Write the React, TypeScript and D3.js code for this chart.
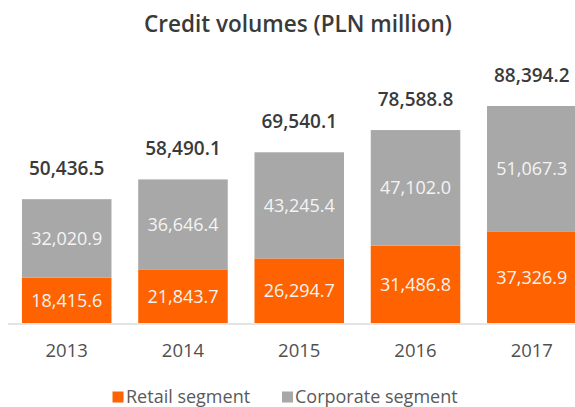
import React from "react";
import * as d3 from "d3";

const years = ["2013", "2014", "2015", "2016", "2017"];
const retail = [18415.6, 21843.7, 26294.7, 31486.8, 37326.9];
const corporate = [32020.9, 36646.4, 43245.4, 47102.0, 51067.3];
const totals = [50436.5, 58490.1, 69540.1, 78588.8, 88394.2];
const seriesNames = ["Retail segment", "Corporate segment"];
const colors = ["#FF6200", "#A8A8A8"];

const W = 575;
const H = 407;
const FONT = "'Open Sans', sans-serif";

export default function App() {
  const x = d3
    .scaleBand<string>()
    .domain(years)
    .range([8, 590.5])
    .paddingInner(0.23)
    .paddingOuter(0.12);
  const y = d3.scaleLinear().domain([0, 100000]).range([323, 77.5]);
  const fmt = d3.format(",.1f");

  const rows = years.map((yr, i) => ({ year: yr, retail: retail[i], corporate: corporate[i] }));
  const stack = d3.stack<any>().keys(["retail", "corporate"])(rows);

  return (
    <svg
      width={W}
      height={H}
      style={{ position: "absolute", left: 0, top: 0, background: "#fff" }}
      fontFamily={FONT}
    >
      <text x={298} y={31.5} textAnchor="middle" fontSize={22.5} fontWeight={600} fill="#3a3a3a">
        Credit volumes (PLN million)
      </text>
      {stack.map((s, si) => (
        <g key={si}>
          {s.map((d, i) => {
            const x0 = x(years[i])!;
            const y0 = y(d[1]);
            const y1 = y(d[0]);
            const val = si === 0 ? retail[i] : corporate[i];
            return (
              <g key={i}>
                <rect x={x0} y={y0} width={x.bandwidth()} height={y1 - y0} fill={colors[si]} />
                <text
                  x={x0 + x.bandwidth() / 2}
                  y={(y0 + y1) / 2}
                  dy="0.36em"
                  textAnchor="middle"
                  fontSize={18}
                  fill="#f4f4f4"
                >
                  {fmt(val)}
                </text>
              </g>
            );
          })}
        </g>
      ))}
      <line x1={8} x2={W} y1={324} y2={324} stroke="#e4e4e4" strokeWidth={2} />
      {years.map((yr, i) => (
        <g key={yr}>
          <text
            x={x(yr)! + x.bandwidth() / 2}
            y={y(totals[i]) - 24}
            textAnchor="middle"
            fontSize={19}
            fontWeight={600}
            fill="#3a3a3a"
          >
            {fmt(totals[i])}
          </text>
          <text
            x={x(yr)! + x.bandwidth() / 2}
            y={357}
            textAnchor="middle"
            fontSize={18.5}
            fill="#505050"
          >
            {yr}
          </text>
        </g>
      ))}
      <g>
        <rect x={112.5} y={391.5} width={11} height={11} fill={colors[0]} />
        <text x={126} y={402.5} fontSize={18} fill="#5a5a5a">
          {seriesNames[0]}
        </text>
        <rect x={282} y={391.5} width={11} height={11} fill={colors[1]} />
        <text x={295} y={402.5} fontSize={18} fill="#5a5a5a">
          {seriesNames[1]}
        </text>
      </g>
    </svg>
  );
}
